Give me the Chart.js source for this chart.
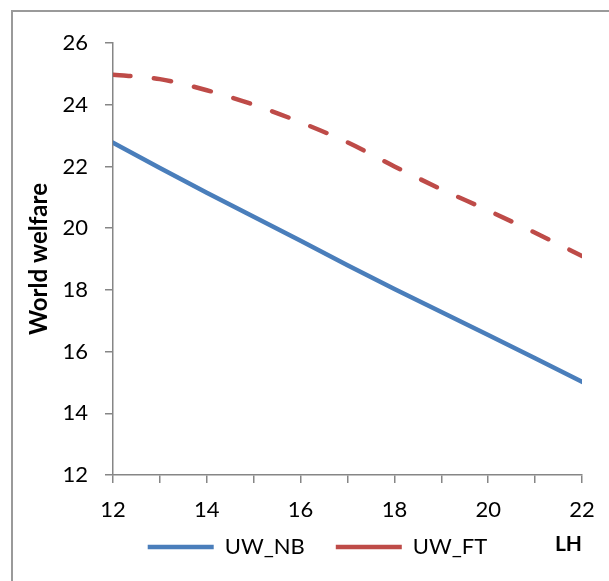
<!DOCTYPE html>
<html>
<head>
  <title>World welfare</title>
  <script src="https://cdn.jsdelivr.net/npm/chart.js"></script>
  <style>
    body { margin: 0; background: #fff; }
    #wrap { position: relative; width: 609px; height: 581px; overflow: hidden; }
    #frame { position: absolute; left: 11px; top: 10px; width: 700px; height: 700px;
             border-left: 2px solid #9a9a9a; border-top: 2px solid #9a9a9a; }
    #myChart { position: absolute; left: 0; top: 0; }
  </style>
</head>
<body>

  <div id="wrap">
    <div id="frame"></div>
    <canvas id="myChart" width="609" height="581"></canvas>
  </div>

  <script>
    // LH values on the x axis
    var lh = [12, 13, 14, 15, 16, 17, 18, 19, 20, 21, 22];
    var uwNB = [22.77, 21.95, 21.15, 20.37, 19.59, 18.80, 18.03, 17.28, 16.54, 15.78, 15.02];
    var uwFT = [24.97, 24.83, 24.47, 24.00, 23.43, 22.78, 22.00, 21.26, 20.57, 19.85, 19.10];
    var yTicks = [12, 14, 16, 18, 20, 22, 24, 26];

    function pairs(ys) {
      return lh.map(function(x, i) { return { x: x, y: ys[i] }; });
    }

    var axisGrey = '#868686';
    var font = { family: 'Lato', size: 22 };

    var ctx = document.getElementById('myChart').getContext('2d');
    var chart = new Chart(ctx, {
      type: 'line',
      data: {
        datasets: [{
          label: 'UW_NB',
          data: pairs(uwNB),
          borderColor: '#4a7ebb',
          backgroundColor: '#4a7ebb',
          borderWidth: 4.5,
          borderCapStyle: 'round',
          pointRadius: 0,
          pointStyle: 'line'
        }, {
          label: 'UW_FT',
          data: pairs(uwFT),
          borderColor: '#be4b48',
          backgroundColor: '#be4b48',
          borderWidth: 4.5,
          borderDash: [17.5, 23.5],
          borderCapStyle: 'round',
          cubicInterpolationMode: 'monotone',
          pointRadius: 0,
          pointStyle: 'line'
        }]
      },
      options: {
        responsive: false,
        animation: false,
        layout: { padding: { left: 26, right: 0, top: 43, bottom: 13 } },
        plugins: {
          tooltip: { enabled: false },
          legend: {
            position: 'bottom',
            labels: {
              usePointStyle: true,
              pointStyleWidth: 66,
              padding: 31,
              color: '#000',
              font: font
            }
          }
        },
        scales: {
          x: {
            type: 'linear',
            min: 12,
            max: 22,
            border: { color: axisGrey, width: 1.5 },
            grid: { drawOnChartArea: false, color: axisGrey, tickLength: 8, lineWidth: 1.5 },
            ticks: {
              stepSize: 1,
              autoSkip: false,
              maxRotation: 0,
              // mirrored so the labels are not clipped to the short scale box
              mirror: true,
              padding: -48,
              color: '#000',
              font: font,
              callback: function(v) { return v % 2 === 0 ? v : ''; }
            },
            title: {
              display: true,
              text: 'LH',
              align: 'end',
              color: '#000',
              font: { family: 'Lato', size: 21, weight: 'bold' },
              padding: { top: 0, bottom: -52 }
            },
            afterFit: function(s) { s.height = 30; }
          },
          y: {
            min: 12,
            max: 26,
            border: { color: axisGrey, width: 1.5 },
            grid: { drawOnChartArea: false, color: axisGrey, tickLength: 8, lineWidth: 1.5 },
            ticks: {
              stepSize: 2,
              padding: 17,
              color: '#000',
              font: font
            },
            afterBuildTicks: function(s) {
              s.ticks = yTicks.map(function(v) { return { value: v }; });
            },
            title: {
              display: true,
              text: 'World welfare',
              color: '#000',
              font: { family: 'Lato', size: 24, weight: 'bold' },
              padding: { top: -1, bottom: 0 }
            },
            afterFit: function(s) { s.width = 87; }
          },
          // empty right axis that only reserves the right margin
          y2: {
            position: 'right',
            display: true,
            grid: { display: false },
            border: { display: false },
            ticks: { display: false },
            afterFit: function(s) { s.width = 27; }
          }
        }
      }
    });
  </script>

</body>
</html>
